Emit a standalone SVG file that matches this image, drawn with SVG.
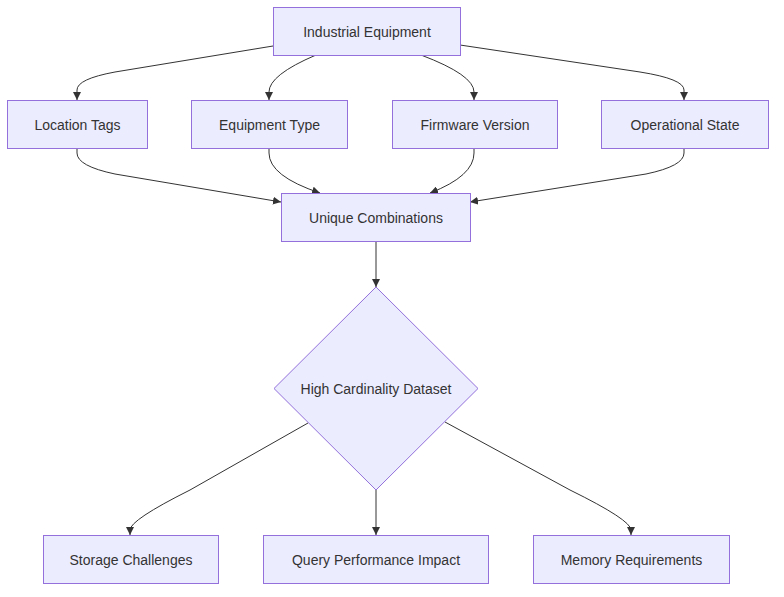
<svg xmlns="http://www.w3.org/2000/svg" width="784" height="597" viewBox="0 0 784 597">
<style>
.node rect,.node polygon{fill:#ECECFF;stroke:#9370DB;stroke-width:1}
.node text{font-family:"Liberation Sans",Arial,sans-serif;font-size:14px;fill:#333;text-anchor:middle;dominant-baseline:central}
.edges path{fill:none;stroke:#333;stroke-width:1}
</style>
<defs>
<marker id="arrow" viewBox="0 0 10 10" refX="10" refY="5" markerWidth="8" markerHeight="8" markerUnits="userSpaceOnUse" orient="auto">
<path d="M0,0 L10,5 L0,10 z" fill="#333"/>
</marker>
</defs>
<rect width="784" height="597" fill="#fff"/>
<g class="edges">
<path d="M273,46 L115,72 Q77,79 77,90 L77,100" marker-end="url(#arrow)"/>
<path d="M316,55 Q269,75 269,92 L269,100" marker-end="url(#arrow)"/>
<path d="M421,55 Q474,75 474,92 L474,100" marker-end="url(#arrow)"/>
<path d="M460,45 L640,72 Q684,79 684,90 L684,100" marker-end="url(#arrow)"/>
<path d="M77,148 L77,153 Q77,166 115,174 L281,202" marker-end="url(#arrow)"/>
<path d="M269,148 L269,153 Q269,176 320,193" marker-end="url(#arrow)"/>
<path d="M474,148 L474,153 Q474,176 430,193" marker-end="url(#arrow)"/>
<path d="M684,148 L684,153 Q684,166 646,174 L470,202" marker-end="url(#arrow)"/>
<path d="M376,241 L376,287" marker-end="url(#arrow)"/>
<path d="M308,423 L190,490 Q130,520 130,530 L130,535" marker-end="url(#arrow)"/>
<path d="M376,490 L376,535" marker-end="url(#arrow)"/>
<path d="M445,422 L570,490 Q631,520 631,530 L631,535" marker-end="url(#arrow)"/>
</g>
<g id="industrial-equipment" class="node"><rect x="273.5" y="7.5" width="187" height="48"/><text x="367" y="31.5">Industrial Equipment</text></g>
<g id="location-tags" class="node"><rect x="7.5" y="100.5" width="140" height="48"/><text x="77.5" y="124.5">Location Tags</text></g>
<g id="equipment-type" class="node"><rect x="191.5" y="100.5" width="156" height="48"/><text x="269.5" y="124.5">Equipment Type</text></g>
<g id="firmware-version" class="node"><rect x="392.5" y="100.5" width="165" height="48"/><text x="475" y="124.5">Firmware Version</text></g>
<g id="operational-state" class="node"><rect x="601.5" y="100.5" width="167" height="48"/><text x="685" y="124.5">Operational State</text></g>
<g id="unique-combinations" class="node"><rect x="281.5" y="193.5" width="189" height="48"/><text x="376" y="217.5">Unique Combinations</text></g>
<g id="high-cardinality" class="node"><polygon points="376,287 478,388.5 376,490 274,388.5"/><text x="376" y="388.5">High Cardinality Dataset</text></g>
<g id="storage-challenges" class="node"><rect x="43.5" y="535.5" width="175" height="48"/><text x="131" y="559.5">Storage Challenges</text></g>
<g id="query-performance" class="node"><rect x="263.5" y="535.5" width="225" height="48"/><text x="376" y="559.5">Query Performance Impact</text></g>
<g id="memory-requirements" class="node"><rect x="533.5" y="535.5" width="196" height="48"/><text x="631.5" y="559.5">Memory Requirements</text></g>
</svg>
